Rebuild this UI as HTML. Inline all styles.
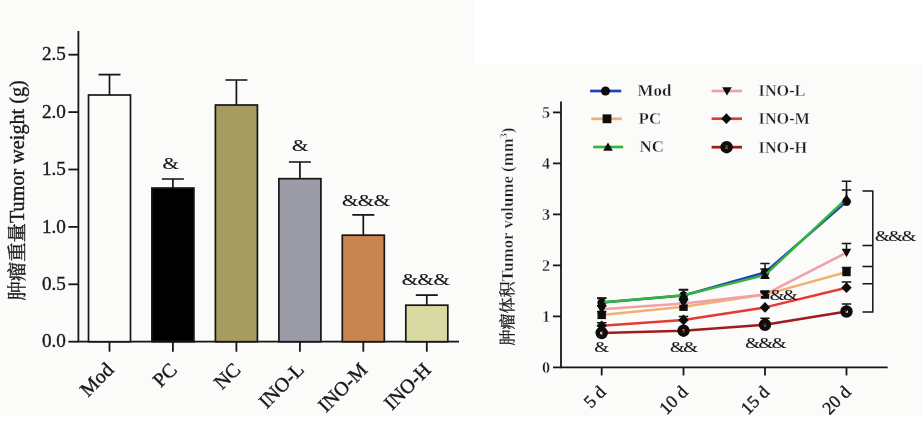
<!DOCTYPE html>
<html lang="zh"><head><meta charset="utf-8"><title>Tumor weight and volume</title>
<style>
html,body{margin:0;padding:0;background:#fff;}
body{width:921px;height:437px;overflow:hidden;position:relative;}
svg{display:block;position:absolute;left:0;top:0;}
text{font-family:"Liberation Serif","Noto Serif CJK SC",serif;fill:#161616;stroke:#161616;stroke-width:0.35;}
.cj{font-family:"Noto Serif CJK SC","Liberation Serif",serif;}
.ax{stroke:#161616;stroke-width:1.8;fill:none;stroke-linecap:butt;}
.eb{stroke:#161616;stroke-width:1.7;fill:none;}
.bar{stroke:#161616;stroke-width:1.7;}
.rb{font-weight:bold;fill:#1c1c1c;stroke:#fbfbfa;stroke-width:0.36;}
.sg{stroke-width:0.12;}
.eb2{stroke:#161616;stroke-width:1.5;fill:none;}
</style></head><body>
<svg width="921" height="437" viewBox="0 0 921 437">
<defs><filter id="soft" x="-2%" y="-2%" width="104%" height="104%"><feGaussianBlur stdDeviation="0.55"/></filter></defs>
<rect x="0" y="0" width="921" height="437" fill="#ffffff"/>
<rect x="0" y="0" width="473" height="416.5" fill="#fbfbfa"/>
<rect x="473" y="64" width="448" height="352.5" fill="#fbfbfa"/>
<g filter="url(#soft)">

<g id="left">
<path class="ax" d="M78.4 31 V342.59999999999997 M77.5 341.7 H459"/>
<path class="ax" d="M68.4 341.7 H78.4"/>
<text x="65.9" y="347.4" font-size="19.2" text-anchor="end">0.0</text>
<path class="ax" d="M68.4 284.3 H78.4"/>
<text x="65.9" y="290.0" font-size="19.2" text-anchor="end">0.5</text>
<path class="ax" d="M68.4 226.9 H78.4"/>
<text x="65.9" y="232.6" font-size="19.2" text-anchor="end">1.0</text>
<path class="ax" d="M68.4 169.5 H78.4"/>
<text x="65.9" y="175.2" font-size="19.2" text-anchor="end">1.5</text>
<path class="ax" d="M68.4 112.1 H78.4"/>
<text x="65.9" y="117.8" font-size="19.2" text-anchor="end">2.0</text>
<path class="ax" d="M68.4 54.7 H78.4"/>
<text x="65.9" y="60.4" font-size="19.2" text-anchor="end">2.5</text>
<path class="eb" d="M109.5 95.0 V74.6 M98.5 74.6 H120.5"/>
<rect class="bar" x="88.5" y="95.0" width="42" height="246.7" fill="#fbfbfa"/>
<path class="ax" d="M109.5 341.7 V351.7"/>
<text transform="translate(110.5,366.7) rotate(-45)" font-size="20" text-anchor="end" y="6">Mod</text>
<path class="eb" d="M172.9 188.0 V179.0 M161.9 179.0 H183.9"/>
<rect class="bar" x="151.9" y="188.0" width="42" height="153.7" fill="#050505"/>
<path class="ax" d="M172.9 341.7 V351.7"/>
<text class="sg" transform="translate(162.6,168.5) scale(1.3,1)" font-size="16.2" letter-spacing="-0.37">&amp;</text>
<text transform="translate(173.9,366.7) rotate(-45)" font-size="20" text-anchor="end" y="6">PC</text>
<path class="eb" d="M236.4 105.0 V80.0 M225.4 80.0 H247.4"/>
<rect class="bar" x="215.4" y="105.0" width="42" height="236.7" fill="#a49c60"/>
<path class="ax" d="M236.4 341.7 V351.7"/>
<text transform="translate(237.4,366.7) rotate(-45)" font-size="20" text-anchor="end" y="6">NC</text>
<path class="eb" d="M299.9 178.7 V162.0 M288.9 162.0 H310.9"/>
<rect class="bar" x="278.9" y="178.7" width="42" height="163.0" fill="#9c9ca8"/>
<path class="ax" d="M299.9 341.7 V351.7"/>
<text class="sg" transform="translate(292.0,151.1) scale(1.3,1)" font-size="16.2" letter-spacing="-0.37">&amp;</text>
<text transform="translate(300.9,366.7) rotate(-45)" font-size="20" text-anchor="end" y="6">INO-L</text>
<path class="eb" d="M363.3 235.2 V214.8 M352.3 214.8 H374.3"/>
<rect class="bar" x="342.3" y="235.2" width="42" height="106.5" fill="#c98550"/>
<path class="ax" d="M363.3 341.7 V351.7"/>
<text class="sg" transform="translate(341.9,205.5) scale(1.3,1)" font-size="16.2" letter-spacing="-0.37">&amp;&amp;&amp;</text>
<text transform="translate(364.3,366.7) rotate(-45)" font-size="20" text-anchor="end" y="6">INO-M</text>
<path class="eb" d="M426.8 305.2 V295.2 M415.8 295.2 H437.8"/>
<rect class="bar" x="405.8" y="305.2" width="42" height="36.5" fill="#d9d9a4"/>
<path class="ax" d="M426.8 341.7 V351.7"/>
<text class="sg" transform="translate(401.7,284.8) scale(1.3,1)" font-size="16.2" letter-spacing="-0.37">&amp;&amp;&amp;</text>
<text transform="translate(427.8,366.7) rotate(-45)" font-size="20" text-anchor="end" y="6">INO-H</text>
<text transform="translate(23.7,300.6) rotate(-90)" font-size="20.2"><tspan class="cj" font-size="19.4">肿瘤重量</tspan>Tumor weight (g)</text>
</g>
<g id="right">
<path class="ax" d="M561 101.5 V368.29999999999995 M560.1 367.4 H887.7"/>
<path class="ax" d="M553 367.4 H561"/>
<text x="550" y="372.6" class="rb" font-size="16.2" text-anchor="end">0</text>
<path class="ax" d="M553 316.4 H561"/>
<text x="550" y="321.6" class="rb" font-size="16.2" text-anchor="end">1</text>
<path class="ax" d="M553 265.4 H561"/>
<text x="550" y="270.6" class="rb" font-size="16.2" text-anchor="end">2</text>
<path class="ax" d="M553 214.4 H561"/>
<text x="550" y="219.6" class="rb" font-size="16.2" text-anchor="end">3</text>
<path class="ax" d="M553 163.4 H561"/>
<text x="550" y="168.6" class="rb" font-size="16.2" text-anchor="end">4</text>
<path class="ax" d="M553 112.4 H561"/>
<text x="550" y="117.6" class="rb" font-size="16.2" text-anchor="end">5</text>
<path class="ax" d="M601.7 367.4 V375.4"/>
<text transform="translate(602.7,388.9) rotate(-45)" font-size="18" text-anchor="end" y="6">5 d</text>
<path class="ax" d="M683.5 367.4 V375.4"/>
<text transform="translate(684.5,388.9) rotate(-45)" font-size="18" text-anchor="end" y="6">10 d</text>
<path class="ax" d="M765.0 367.4 V375.4"/>
<text transform="translate(766.0,388.9) rotate(-45)" font-size="18" text-anchor="end" y="6">15 d</text>
<path class="ax" d="M846.5 367.4 V375.4"/>
<text transform="translate(847.5,388.9) rotate(-45)" font-size="18" text-anchor="end" y="6">20 d</text>
<polyline points="601.7,302.6 683.5,295.5 765.0,272.5 846.5,201.6" fill="none" stroke="#2242b4" stroke-width="2.5" stroke-linejoin="round"/>
<path class="eb2" d="M601.7 302.6 V298.0 M597.0 298.0 H606.4"/>
<circle cx="601.7" cy="302.6" r="4.3" fill="#0a0a0a"/>
<path class="eb2" d="M683.5 295.5 V289.4 M678.8 289.4 H688.2"/>
<circle cx="683.5" cy="295.5" r="4.3" fill="#0a0a0a"/>
<path class="eb2" d="M765.0 272.5 V263.4 M760.3 263.4 H769.7"/>
<circle cx="765.0" cy="272.5" r="4.3" fill="#0a0a0a"/>
<path class="eb2" d="M846.5 201.6 V181.2 M841.8 181.2 H851.2"/>
<circle cx="846.5" cy="201.6" r="4.3" fill="#0a0a0a"/>
<polyline points="601.7,314.9 683.5,306.7 765.0,294.6 846.5,272.0" fill="none" stroke="#f2b070" stroke-width="2.5" stroke-linejoin="round"/>
<path class="eb2" d="M601.7 314.9 V311.8 M597.0 311.8 H606.4"/>
<rect x="597.5" y="310.7" width="8.4" height="8.4" fill="#0a0a0a"/>
<path class="eb2" d="M683.5 306.7 V303.6 M678.8 303.6 H688.2"/>
<rect x="679.3" y="302.5" width="8.4" height="8.4" fill="#0a0a0a"/>
<path class="eb2" d="M765.0 294.6 V292.1 M760.3 292.1 H769.7"/>
<rect x="760.8" y="290.4" width="8.4" height="8.4" fill="#0a0a0a"/>
<path class="eb2" d="M846.5 272.0 V267.4 M841.8 267.4 H851.2"/>
<rect x="842.3" y="267.8" width="8.4" height="8.4" fill="#0a0a0a"/>
<polyline points="601.7,302.4 683.5,295.2 765.0,275.1 846.5,198.6" fill="none" stroke="#34b43c" stroke-width="2.5" stroke-linejoin="round"/>
<path class="eb2" d="M601.7 302.4 V298.3 M597.0 298.3 H606.4"/>
<path d="M601.7 297.8 L606.5 306.2 H596.9 Z" fill="#0a0a0a"/>
<path class="eb2" d="M683.5 295.2 V290.1 M678.8 290.1 H688.2"/>
<path d="M683.5 290.6 L688.3 299.0 H678.7 Z" fill="#0a0a0a"/>
<path class="eb2" d="M765.0 275.1 V269.0 M760.3 269.0 H769.7"/>
<path d="M765.0 270.5 L769.8 278.9 H760.2 Z" fill="#0a0a0a"/>
<path class="eb2" d="M846.5 198.6 V189.9 M841.8 189.9 H851.2"/>
<path d="M846.5 194.0 L851.3 202.4 H841.7 Z" fill="#0a0a0a"/>
<polyline points="601.7,309.3 683.5,303.4 765.0,294.4 846.5,252.6" fill="none" stroke="#f2a0a8" stroke-width="2.5" stroke-linejoin="round"/>
<path class="eb2" d="M601.7 309.3 V305.7 M597.0 305.7 H606.4"/>
<path d="M601.7 313.9 L606.5 305.5 H596.9 Z" fill="#0a0a0a"/>
<path class="eb2" d="M683.5 303.4 V299.8 M678.8 299.8 H688.2"/>
<path d="M683.5 308.0 L688.3 299.6 H678.7 Z" fill="#0a0a0a"/>
<path class="eb2" d="M765.0 294.4 V291.8 M760.3 291.8 H769.7"/>
<path d="M765.0 299.0 L769.8 290.6 H760.2 Z" fill="#0a0a0a"/>
<path class="eb2" d="M846.5 252.6 V243.5 M841.8 243.5 H851.2"/>
<path d="M846.5 257.2 L851.3 248.8 H841.7 Z" fill="#0a0a0a"/>
<polyline points="601.7,325.8 683.5,320.0 765.0,307.4 846.5,287.7" fill="none" stroke="#e23a34" stroke-width="2.5" stroke-linejoin="round"/>
<path class="eb2" d="M601.7 325.8 V322.8 M597.0 322.8 H606.4"/>
<path d="M601.7 320.4 L606.9 325.8 L601.7 331.2 L596.5 325.8 Z" fill="#0a0a0a"/>
<path class="eb2" d="M683.5 320.0 V316.4 M678.8 316.4 H688.2"/>
<path d="M683.5 314.6 L688.7 320.0 L683.5 325.4 L678.3 320.0 Z" fill="#0a0a0a"/>
<path d="M765.0 302.0 L770.2 307.4 L765.0 312.8 L759.8 307.4 Z" fill="#0a0a0a"/>
<path class="eb2" d="M846.5 287.7 V282.1 M841.8 282.1 H851.2"/>
<path d="M846.5 282.3 L851.7 287.7 L846.5 293.1 L841.3 287.7 Z" fill="#0a0a0a"/>
<polyline points="601.7,333.0 683.5,330.7 765.0,324.8 846.5,311.5" fill="none" stroke="#a01a1a" stroke-width="2.5" stroke-linejoin="round"/>
<circle cx="601.7" cy="333.0" r="3.9" fill="none" stroke="#0a0a0a" stroke-width="4.6"/>
<circle cx="683.5" cy="330.7" r="3.9" fill="none" stroke="#0a0a0a" stroke-width="4.6"/>
<path class="eb2" d="M765.0 324.8 V318.2 M760.3 318.2 H769.7"/>
<circle cx="765.0" cy="324.8" r="3.9" fill="none" stroke="#0a0a0a" stroke-width="4.6"/>
<path class="eb2" d="M846.5 311.5 V303.9 M841.8 303.9 H851.2"/>
<circle cx="846.5" cy="311.5" r="3.9" fill="none" stroke="#0a0a0a" stroke-width="4.6"/>
<path d="M590.1 91 H621.2" stroke="#2242b4" stroke-width="2.7" fill="none"/>
<circle cx="605.5" cy="91.0" r="4.5" fill="#0a0a0a"/>
<text x="637.6" y="96.4" class="rb" font-size="16.9">Mod</text>
<path d="M591.3 118.8 H621.8" stroke="#f2b070" stroke-width="2.7" fill="none"/>
<rect x="602.6" y="114.4" width="8.8" height="8.8" fill="#0a0a0a"/>
<text x="638.6" y="124.2" class="rb" font-size="16.9">PC</text>
<path d="M593.2 147 H623.2" stroke="#34b43c" stroke-width="2.7" fill="none"/>
<path d="M608.0 142.4 L612.8 150.8 H603.2 Z" fill="#0a0a0a"/>
<text x="639.5" y="152.4" class="rb" font-size="16.9">NC</text>
<path d="M711.6 91 H742" stroke="#f2a0a8" stroke-width="2.7" fill="none"/>
<path d="M727.0 95.6 L731.8 87.2 H722.2 Z" fill="#0a0a0a"/>
<text x="758.6" y="96.4" class="rb" font-size="16.2">INO-L</text>
<path d="M711.6 118.7 H742" stroke="#e23a34" stroke-width="2.7" fill="none"/>
<path d="M726.4 113.3 L731.6 118.7 L726.4 124.1 L721.2 118.7 Z" fill="#0a0a0a"/>
<text x="758.6" y="124.1" class="rb" font-size="16.2">INO-M</text>
<path d="M711.6 147.2 H742" stroke="#a01a1a" stroke-width="2.7" fill="none"/>
<circle cx="726.6" cy="147.2" r="3.9" fill="none" stroke="#0a0a0a" stroke-width="4.6"/>
<text x="758.6" y="152.6" class="rb" font-size="16.2">INO-H</text>
<text class="sg" transform="translate(594.3,352.1) scale(1.3,1)" font-size="14.6" letter-spacing="-1.13">&amp;</text>
<text class="sg" transform="translate(670.0,352.1) scale(1.3,1)" font-size="14.6" letter-spacing="-1.13">&amp;&amp;</text>
<text class="sg" transform="translate(745.2,347.9) scale(1.3,1)" font-size="14.6" letter-spacing="-1.13">&amp;&amp;&amp;</text>
<text class="sg" transform="translate(769.7,299.8) scale(1.3,1)" font-size="14.6" letter-spacing="-1.13">&amp;&amp;</text>
<text class="sg" transform="translate(874.9,240.8) scale(1.3,1)" font-size="14.6" letter-spacing="-1.13">&amp;&amp;&amp;</text>
<path class="eb2" d="M872.8 190.2 V312.8 M862.5 191 H872.8 M862.5 245.6 H872.8 M862.5 266.5 H872.8 M862.5 283.8 H872.8 M862.5 312 H872.8"/>
<text transform="translate(513.3,345.4) rotate(-90)" class="rb" font-size="16.85"><tspan class="cj" font-size="16" font-weight="normal" stroke="#161616" stroke-width="0.3">肿瘤体积</tspan>Tumor volume (mm<tspan font-size="10" dy="-6.5">3</tspan><tspan dy="6.5">)</tspan></text>
</g>
</g></svg></body></html>
